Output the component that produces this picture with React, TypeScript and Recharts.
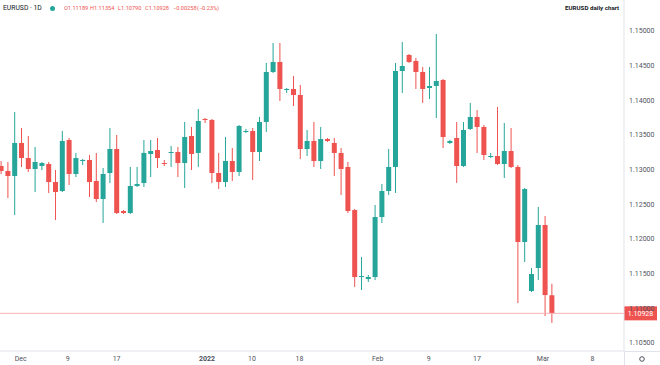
import React from "react";
import { ComposedChart, Bar, XAxis, YAxis, ReferenceLine } from "recharts";

// EURUSD daily candles, left to right
const opens = [
  1.13053, 1.12981, 1.12909, 1.13385, 1.13168, 1.1301, 1.13053, 1.13082, 1.12822, 1.12692,
  1.13428, 1.12938, 1.13125, 1.1314, 1.12837, 1.12577, 1.12952, 1.13298, 1.12404, 1.12375,
  1.12765, 1.12808, 1.13226, 1.13284, 1.13096, 1.13241, 1.13255, 1.13096, 1.13486, 1.13241,
  1.13731, 1.13717, 1.12952, 1.12822, 1.13125, 1.12967, 1.13543, 1.13558, 1.13255, 1.13688,
  1.14409, 1.14553, 1.14149, 1.14164, 1.14077, 1.13298, 1.13414, 1.13125, 1.13442, 1.13385,
  1.13241, 1.13039, 1.12418, 1.11452, 1.11423, 1.11452, 1.12317, 1.12692, 1.13039, 1.14423,
  1.14654, 1.14568, 1.14409, 1.14178, 1.14207, 1.14293, 1.13385, 1.13457, 1.13053, 1.13587,
  1.1376, 1.13616, 1.13183, 1.13197, 1.13082, 1.13269, 1.13039, 1.11957, 1.1125, 1.11582,
  1.12202, 1.11189,
];
const highs = [
  1.13125, 1.13111, 1.13832, 1.13601, 1.13486, 1.13327, 1.13111, 1.13111, 1.12995, 1.13558,
  1.13457, 1.13241, 1.13154, 1.13212, 1.13241, 1.13024, 1.13601, 1.135, 1.12418, 1.13039,
  1.13039, 1.13428, 1.13428, 1.13457, 1.1314, 1.13342, 1.13327, 1.13688, 1.13616, 1.13875,
  1.13745, 1.13731, 1.13241, 1.13471, 1.13313, 1.13644, 1.13587, 1.13601, 1.1376, 1.14539,
  1.14827, 1.14827, 1.14178, 1.14351, 1.14221, 1.13572, 1.13688, 1.13616, 1.13457, 1.13457,
  1.13313, 1.13111, 1.12433, 1.1174, 1.11481, 1.12491, 1.12793, 1.13298, 1.14539, 1.14842,
  1.14669, 1.14611, 1.14481, 1.14481, 1.14957, 1.14308, 1.13428, 1.13688, 1.13688, 1.13962,
  1.13861, 1.13644, 1.13241, 1.13904, 1.13673, 1.13601, 1.13067, 1.12736, 1.11582, 1.12462,
  1.12332, 1.11354,
];
const lows = [
  1.12938, 1.12591, 1.12346, 1.13039, 1.12967, 1.12678, 1.12995, 1.12664, 1.12274, 1.12678,
  1.12779, 1.12894, 1.13067, 1.12606, 1.12534, 1.12231, 1.12808, 1.12361, 1.12361, 1.12361,
  1.1275, 1.1275, 1.12894, 1.13024, 1.13053, 1.13039, 1.12894, 1.12736, 1.12995, 1.13039,
  1.13673, 1.12808, 1.12721, 1.1275, 1.12837, 1.12909, 1.13529, 1.12851, 1.13125, 1.13543,
  1.14394, 1.13991, 1.14106, 1.13918, 1.13154, 1.13197, 1.13039, 1.1301, 1.13399, 1.12909,
  1.12635, 1.12375, 1.11308, 1.11264, 1.1138, 1.11409, 1.12231, 1.12635, 1.12664, 1.14106,
  1.14539, 1.14164, 1.13962, 1.14019, 1.13745, 1.13313, 1.1337, 1.12808, 1.13039, 1.13572,
  1.13241, 1.1314, 1.13168, 1.13067, 1.1288, 1.13024, 1.11077, 1.11668, 1.11236, 1.11409,
  1.10889, 1.1079,
];
const closes = [
  1.12981, 1.12909, 1.13385, 1.13168, 1.1301, 1.13111, 1.13096, 1.12822, 1.12678, 1.13414,
  1.12938, 1.13168, 1.1314, 1.12822, 1.12577, 1.12938, 1.13298, 1.12375, 1.12375, 1.12765,
  1.12793, 1.13241, 1.13269, 1.13168, 1.13082, 1.13255, 1.13096, 1.13471, 1.13226, 1.13702,
  1.13717, 1.12952, 1.12822, 1.13125, 1.12967, 1.1363, 1.13558, 1.13255, 1.13688, 1.14409,
  1.14553, 1.14164, 1.14164, 1.14077, 1.13298, 1.13414, 1.13125, 1.13442, 1.13414, 1.13241,
  1.1301, 1.12404, 1.11452, 1.11466, 1.11452, 1.12317, 1.12692, 1.13039, 1.14423, 1.14495,
  1.14553, 1.14409, 1.14164, 1.14207, 1.14279, 1.13471, 1.13414, 1.13053, 1.13572, 1.1376,
  1.13616, 1.13212, 1.13197, 1.13082, 1.13269, 1.13039, 1.11957, 1.12721, 1.11495, 1.12202,
  1.11192, 1.10928,
];

// date labels and where they sit on the bar index scale
const dateTicks = [2.9, 9.8, 17, 30.3, 36.9, 43.9, 55.4, 62.9, 70, 79.7, 87];
const dateLabels = ["Dec", "9", "17", "2022", "10", "18", "Feb", "9", "17", "Mar", "8"];

const priceTicks = [1.105, 1.11, 1.115, 1.12, 1.125, 1.13, 1.135, 1.14, 1.145, 1.15];
const lastClose = 1.10928;

const UP = "#26a69a";
const DOWN = "#ef5350";
const FONT = "Roboto, 'Noto Sans', sans-serif";

const data = opens.map((o, i) => ({
  i,
  open: o,
  high: highs[i],
  low: lows[i],
  close: closes[i],
}));

function Candle(props: any) {
  const { x, y, width, height, payload } = props;
  if (!payload) return null;
  const { open, close, high, low } = payload;
  const color = close >= open ? UP : DOWN;
  const h = Math.abs(height);
  const top = height < 0 ? y + height : y;
  const k = h / (high - low);
  const bodyTop = top + (high - Math.max(open, close)) * k;
  const bodyH = Math.max(1, Math.abs(open - close) * k);
  const cx = x + width / 2;
  return (
    <g>
      <line x1={cx} x2={cx} y1={top} y2={top + h} stroke={color} strokeWidth={1} />
      <rect x={x} y={bodyTop} width={width} height={bodyH} fill={color} />
    </g>
  );
}

function DateTick(props: any) {
  const { x, y, payload } = props;
  const idx = dateTicks.indexOf(payload.value);
  const label = dateLabels[idx] ?? "";
  return (
    <text
      x={x}
      y={y + 10}
      textAnchor="middle"
      fontSize={7}
      fontFamily={FONT}
      fontWeight={label === "2022" ? 700 : 400}
      fill="#50535e"
    >
      {label}
    </text>
  );
}

function PriceTick(props: any) {
  const { x, y, payload } = props;
  return (
    <text x={x + 5} y={y} dy="0.35em" fontSize={7} fontFamily={FONT} fill="#50535e">
      {payload.value.toFixed(5)}
    </text>
  );
}

function LastPrice(props: any) {
  const vb = props.viewBox;
  if (!vb) return null;
  const x = vb.x + vb.width;
  return (
    <g>
      <rect x={x} y={vb.y - 7} width={33} height={14} fill={DOWN} />
      <text
        x={x + 16.5}
        y={vb.y}
        dy="0.35em"
        textAnchor="middle"
        fontSize={7}
        fontFamily={FONT}
        fill="#ffffff"
      >
        {lastClose.toFixed(5)}
      </text>
    </g>
  );
}

export default function App() {
  return (
    <div
      style={{
        position: "absolute",
        left: 0,
        top: 0,
        width: 660,
        height: 365,
        background: "#ffffff",
        fontFamily: FONT,
        overflow: "hidden",
      }}
    >
      <ComposedChart
        width={660}
        height={365}
        data={data}
        margin={{ top: 0, right: 0, bottom: 0, left: 0 }}
      >
        <XAxis
          dataKey="i"
          type="number"
          domain={[-0.147, 91.62]}
          allowDataOverflow
          ticks={dateTicks}
          interval={0}
          tick={<DateTick />}
          tickLine={false}
          tickSize={0}
          tickMargin={0}
          height={14}
          axisLine={{ stroke: "#e0e3eb" }}
        />
        <YAxis
          orientation="right"
          domain={[1.10385, 1.15447]}
          allowDataOverflow
          ticks={priceTicks}
          interval={0}
          tick={<PriceTick />}
          tickLine={false}
          tickSize={0}
          tickMargin={0}
          width={36}
          axisLine={{ stroke: "#e0e3eb" }}
        />
        <ReferenceLine
          y={lastClose}
          stroke="#f7b2b6"
          strokeWidth={1}
          label={<LastPrice />}
        />
        <Bar
          dataKey={(d: any) => [d.low, d.high]}
          barSize={5}
          shape={<Candle />}
          isAnimationActive={false}
        />
      </ComposedChart>

      {/* header */}
      <div style={{ position: "absolute", left: 3, top: 3, fontSize: 6.8, color: "#131722", lineHeight: "10px" }}>
        EURUSD · 1D
      </div>
      <div
        style={{
          position: "absolute",
          left: 50,
          top: 5.5,
          width: 5,
          height: 5,
          borderRadius: 3,
          background: UP,
        }}
      />
      {[
        ["O1.11189", 64],
        ["H1.11354", 90],
        ["L1.10790", 118],
        ["C1.10928", 145],
        ["\u22120.00258", 173],
        ["(\u22120.23%)", 197],
      ].map(([t, l]) => (
        <div
          key={String(t)}
          style={{ position: "absolute", left: l as number, top: 3, fontSize: 5.6, color: DOWN, lineHeight: "10px", whiteSpace: "nowrap" }}
        >
          {t}
        </div>
      ))}
      <div
        style={{
          position: "absolute",
          left: 565,
          top: 3,
          fontSize: 6.2,
          fontWeight: 700,
          color: "#131722",
          lineHeight: "10px",
          whiteSpace: "nowrap",
        }}
      >
        EURUSD daily chart
      </div>

      {/* axis corner */}
      <svg width={660} height={365} style={{ position: "absolute", left: 0, top: 0, pointerEvents: "none" }}>
        <line x1={624} x2={660} y1={351.5} y2={351.5} stroke="#e0e3eb" />
        <line x1={624.5} x2={624.5} y1={351} y2={365} stroke="#e0e3eb" />
        <circle cx={642} cy={359} r={2.3} fill="none" stroke="#50535e" strokeWidth={1} />
      </svg>
    </div>
  );
}
